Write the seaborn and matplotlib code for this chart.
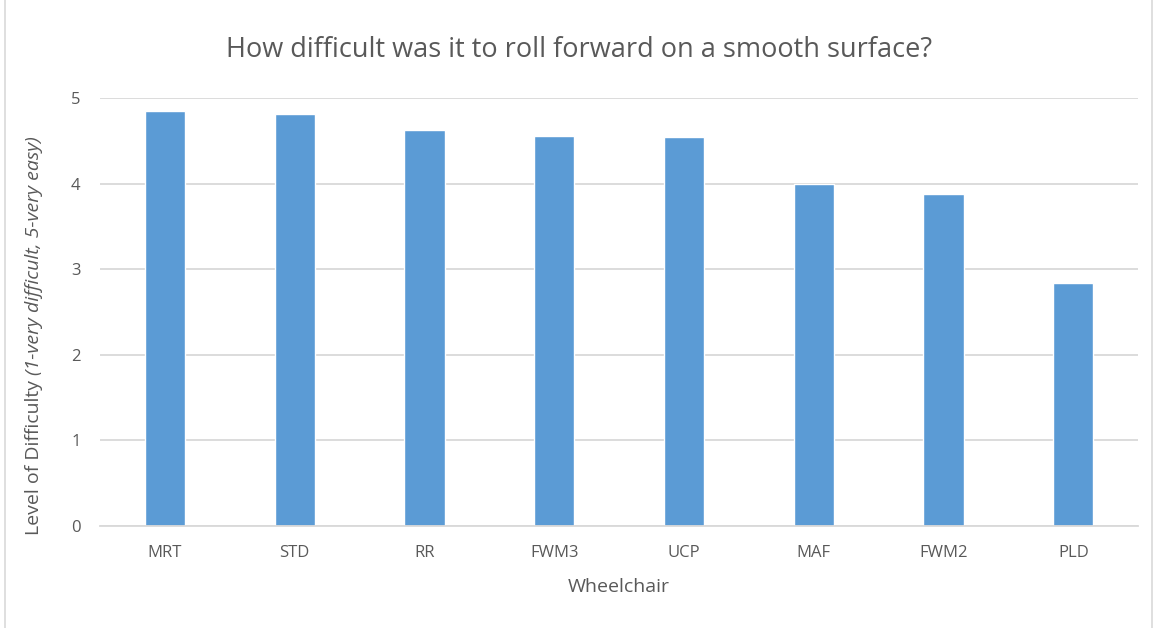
import matplotlib
matplotlib.use("Agg")
import matplotlib.pyplot as plt
import seaborn as sns
import pandas as pd
from matplotlib.patches import Rectangle

# Values
wheelchairs = ["MRT", "STD", "RR", "FWM3", "UCP", "MAF", "FWM2", "PLD"]
difficulty = [4.85, 4.81, 4.63, 4.56, 4.54, 4.0, 3.88, 2.84]

df = pd.DataFrame({"Wheelchair": wheelchairs, "Difficulty": difficulty})

sns.set_style("white")
plt.rcParams["font.family"] = ["Open Sans", "DejaVu Sans"]

text_col = "#595959"
fig = plt.figure(figsize=(11.59, 6.28), dpi=100)
ax = fig.add_axes([0.0863, 0.1624, 0.8957, 0.6816])

sns.barplot(data=df, x="Wheelchair", y="Difficulty", color="#5B9BD5",
            saturation=1, width=0.31, ax=ax)

ax.set_ylim(0, 5)
ax.set_xlim(-0.5, len(wheelchairs) - 0.5)
ax.set_yticks(range(0, 6))
ax.yaxis.grid(True, color="#D9D9D9", linewidth=1.3)
ax.set_axisbelow(True)
for s in ["top", "right", "left"]:
    ax.spines[s].set_visible(False)
ax.spines["bottom"].set_color("#D9D9D9")
ax.spines["bottom"].set_linewidth(1.3)
ax.tick_params(axis="both", length=0, labelsize=12, colors=text_col)
ax.tick_params(axis="x", pad=14)
ax.tick_params(axis="y", pad=14)

ax.set_xlabel("Wheelchair", fontsize=14, color=text_col, labelpad=12)
ax.set_ylabel("")

fig.suptitle("How difficult was it to roll forward on a smooth surface?",
             fontsize=19.5, color=text_col, y=0.942)

# y label: normal part then italic part, stacked upward
t1 = fig.text(0.029, 0.148, "Level of Difficulty ", rotation=90, fontsize=14,
              color=text_col, ha="center", va="bottom")
fig.canvas.draw()
bb = t1.get_window_extent()
top = fig.transFigure.inverted().transform((0, bb.y1))[1]
fig.text(0.029, top, "(1-very difficult, 5-very easy)", rotation=90, fontsize=14,
         color=text_col, ha="center", va="bottom", style="italic")

# light chart border
fig.patches.append(Rectangle((0.004, -0.01), 0.99, 1.02, transform=fig.transFigure,
                             fill=False, edgecolor="#D9D9D9", linewidth=1.2))

fig.savefig("out.png", dpi=100)
